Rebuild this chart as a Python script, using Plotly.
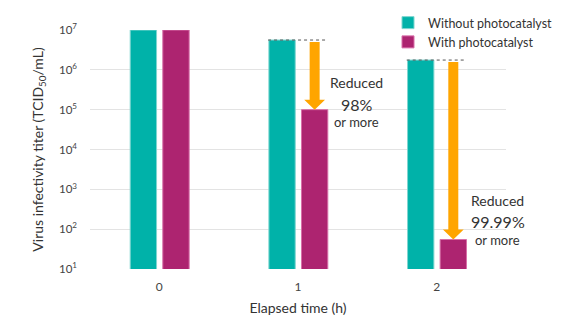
import plotly.graph_objects as go
import numpy as np

times = [0, 1, 2]
tick_labels = ["0", "1", "2"]
without_pc = [1.0e7, 5.6e6, 1.76e6]
with_pc = [1.0e7, 1.0e5, 55]
reduction_text = ["", "98%", "99.99%"]

TEAL = "#00B2A9"
MAG = "#AD2470"
ORANGE = "#FFA500"
TXT = "#333333"
FONT = "Lato"

fig = go.Figure()
fig.add_trace(go.Bar(x=times, y=without_pc, name="Without photocatalyst",
                     offset=-0.21, width=0.19,
                     marker=dict(color=TEAL, line=dict(color="#7fd6d0", width=1))))
fig.add_trace(go.Bar(x=times, y=with_pc, name="With photocatalyst",
                     offset=0.025, width=0.19,
                     marker=dict(color=MAG, line=dict(color="#d86fa8", width=1))))

# dotted reference lines and arrows for reduced groups
for i in (1, 2):
    x = times[i]
    fig.add_trace(go.Scatter(x=[x - 0.216, x + 0.215], y=[without_pc[i]] * 2,
                             mode="lines", line=dict(color="#555555", width=1, dash="dot"),
                             showlegend=False, hoverinfo="skip"))
    xc = x + 0.12
    top = np.log10(without_pc[i]) - 0.05
    tip = np.log10(with_pc[i])
    hb = tip + 0.25
    sw, hw = 0.036, 0.075
    xs = [xc - sw, xc + sw, xc + sw, xc + hw, xc, xc - hw, xc - sw, xc - sw]
    ys = [top, top, hb, hb, tip, hb, hb, top]
    fig.add_trace(go.Scatter(x=xs, y=[10 ** v for v in ys], mode="lines", fill="toself",
                             fillcolor=ORANGE, line=dict(width=0, color=ORANGE),
                             showlegend=False, hoverinfo="skip"))

# annotation texts (y in log10 units)
ann = []
for i, xo, yl in ((1, 0.425, 5.14), (2, 0.44, 2.20)):
    x = times[i]
    ann.append(dict(x=x + xo, y=yl + 0.53, text="Reduced", showarrow=False,
                    font=dict(size=14, color=TXT, family=FONT), xanchor="center", yanchor="middle"))
    ann.append(dict(x=x + xo, y=yl, text=reduction_text[i], showarrow=False,
                    font=dict(size=16, color=TXT, family=FONT), xanchor="center", yanchor="middle"))
    ann.append(dict(x=x + xo, y=yl - 0.46, text="or more", showarrow=False,
                    font=dict(size=13, color=TXT, family=FONT), xanchor="center", yanchor="middle"))

tickvals = [10 ** k for k in range(1, 8)]
ticktext = [f"10<sup>{k}</sup>" for k in range(1, 8)]

fig.update_layout(
    width=570, height=328,
    margin=dict(l=90, r=64, t=30, b=59, autoexpand=False),
    paper_bgcolor="white", plot_bgcolor="white",
    font=dict(family=FONT, color=TXT),
    barmode="overlay",
    annotations=ann,
    showlegend=True,
    legend=dict(x=388 / 570, y=1 - 8 / 328, xref="container", yref="container",
                xanchor="left", yanchor="top",
                font=dict(size=12.5, color=TXT, family=FONT),
                bgcolor="rgba(0,0,0,0)", tracegroupgap=0, itemwidth=30),
    xaxis=dict(range=[-0.5, 2.5], tickvals=times, ticktext=tick_labels,
               showgrid=False, zeroline=False, showline=False,
               tickfont=dict(size=12, color="#444444"), ticklabelstandoff=9,
               title=dict(text="Elapsed time (h)", font=dict(size=14, color=TXT), standoff=10)),
    yaxis=dict(type="log", range=[1, 7], tickvals=tickvals, ticktext=ticktext,
               showgrid=True, gridcolor="#e3e3e3", gridwidth=1, zeroline=False,
               showline=False, tickfont=dict(size=11.5, color="#444444"),
               ticklabelstandoff=12,
               title=dict(text="Virus infectivity titer (TCID<sub>50</sub>/mL)",
                          font=dict(size=14, color=TXT), standoff=12)),
)

fig.write_html("out.html")
